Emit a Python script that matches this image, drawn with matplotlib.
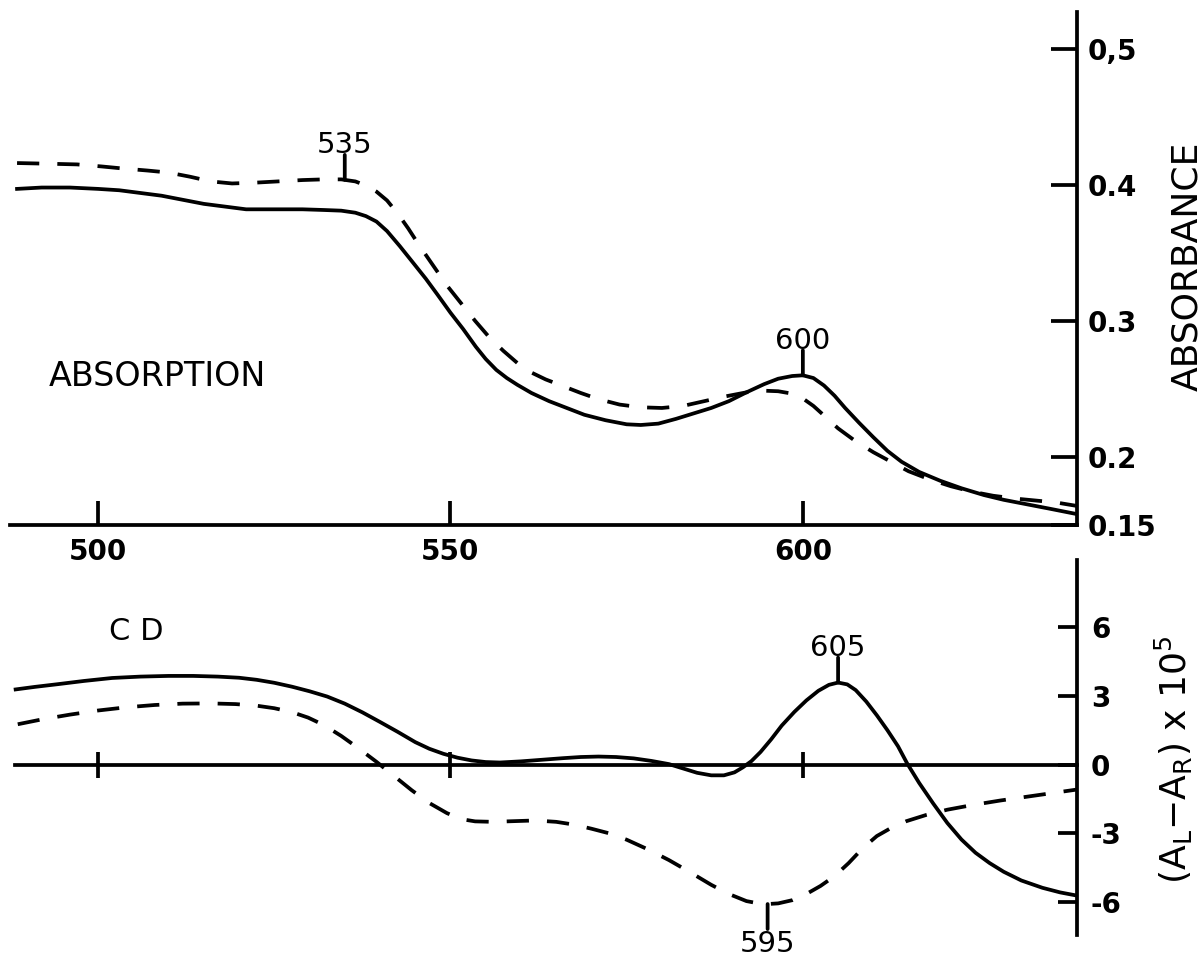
import numpy as np
import matplotlib
matplotlib.use("Agg")
import matplotlib.pyplot as plt

# absorption spectra (wavelength nm, absorbance)
wl_abs_solid = [488.5, 492, 496, 500, 503, 506, 509, 512, 515, 518, 521, 525, 529, 532, 534.5,
                536.5, 538, 539.5, 541, 542.8, 544.5, 546.5, 548.2, 550, 551.8, 553.6, 555,
                556.5, 558, 559.5, 561.5, 564, 566.5, 569, 572, 575, 577, 579.5, 582, 584.5,
                587, 589.5, 592, 594.5, 596.5, 598.5, 600, 601.5, 603, 604.5, 606, 608, 610,
                612, 614, 616.5, 619.5, 622.5, 625.7, 628.5, 631.5, 635, 638.9]
abs_solid = [0.397, 0.398, 0.398, 0.397, 0.396, 0.394, 0.392, 0.389, 0.386, 0.384, 0.382, 0.382,
             0.382, 0.3815, 0.381, 0.3795, 0.377, 0.373, 0.366, 0.355, 0.344, 0.331, 0.319,
             0.306, 0.294, 0.281, 0.272, 0.264, 0.258, 0.253, 0.247, 0.241, 0.236, 0.231,
             0.227, 0.224, 0.2235, 0.2245, 0.228, 0.232, 0.236, 0.241, 0.2475, 0.2535, 0.2575,
             0.2595, 0.260, 0.258, 0.2525, 0.245, 0.236, 0.225, 0.2145, 0.2045, 0.1965, 0.189,
             0.1825, 0.177, 0.172, 0.1685, 0.1655, 0.162, 0.158]

wl_abs_dash = [488.5, 493, 497, 500.5, 503.5, 507, 510, 513, 516, 519, 522, 525.5, 529, 532,
               534.5, 536.5, 538, 539.5, 541, 542.5, 544, 545.5, 547.5, 549.5, 551.5, 553.5,
               555.5, 557.5, 559.5, 561.5, 563.5, 566, 568.5, 571, 574, 577, 580, 583, 586,
               589, 592, 594.5, 596.5, 598.5, 600, 601.5, 603, 605, 607.5, 610, 612.5, 615,
               618, 621, 624, 627, 630, 633, 636, 638.9]
abs_dash = [0.416, 0.4155, 0.415, 0.4135, 0.412, 0.4105, 0.409, 0.406, 0.4025, 0.401, 0.4015,
            0.4025, 0.4035, 0.404, 0.404, 0.4025, 0.3995, 0.395, 0.3885, 0.379, 0.368, 0.356,
            0.341, 0.326, 0.313, 0.300, 0.288, 0.278, 0.269, 0.262, 0.257, 0.252, 0.247,
            0.2425, 0.2385, 0.2365, 0.236, 0.2375, 0.241, 0.2445, 0.2475, 0.2487, 0.2483,
            0.2465, 0.243, 0.2375, 0.2305, 0.221, 0.2115, 0.2035, 0.1965, 0.1895, 0.1835,
            0.1785, 0.1745, 0.1715, 0.1695, 0.168, 0.1665, 0.164]

# CD spectra (wavelength nm, (AL-AR) x 10^5)
wl_cd_solid = [488.3, 491, 494.3, 498, 502, 506, 510, 513.5, 517, 520, 522.5, 525, 527.5, 530,
               532.5, 535, 537.5, 540, 542.5, 545, 547, 549, 551, 553, 555, 557, 560, 563, 566,
               568.5, 571, 573.5, 576, 578.5, 581, 583, 585, 587, 588.8, 590.3, 591.5, 592.7,
               594, 595.5, 597, 598.8, 600.5, 602.2, 603.7, 605, 606.3, 607.5, 609, 610.5, 612,
               613.5, 614.8, 616.5, 618.5, 620.5, 622.5, 624.5, 626.5, 628.5, 631, 634, 636.5,
               638.9]
cd_solid = [3.28, 3.39, 3.51, 3.65, 3.78, 3.84, 3.87, 3.87, 3.84, 3.79, 3.70, 3.57, 3.40, 3.20,
            2.97, 2.66, 2.28, 1.86, 1.43, 0.98, 0.69, 0.47, 0.30, 0.18, 0.11, 0.09, 0.14, 0.21,
            0.28, 0.33, 0.35, 0.33, 0.27, 0.16, 0.02, -0.17, -0.36, -0.47, -0.47, -0.34, -0.12,
            0.15, 0.55, 1.10, 1.70, 2.30, 2.80, 3.22, 3.48, 3.58, 3.50, 3.25, 2.75, 2.15, 1.50,
            0.80, 0.05, -0.80, -1.70, -2.55, -3.27, -3.85, -4.30, -4.68, -5.06, -5.38, -5.58,
            -5.72]

wl_cd_dash = [488.6, 492, 496, 500, 504, 508, 512, 516, 519.5, 522.5, 525, 527.5, 529.8, 532,
              534.5, 537, 539.5, 542, 544.5, 547, 549.5, 551.5, 553.5, 556, 559, 562, 565,
              567.5, 570, 572.5, 575, 578, 581, 584, 587, 589.5, 592, 594.4, 596.5, 598.5,
              600.5, 602.5, 604.5, 606.5, 608.5, 610.5, 612.5, 614.7, 617.5, 620.5, 624, 628,
              633, 638.9]
cd_dash = [1.76, 1.97, 2.18, 2.36, 2.50, 2.60, 2.66, 2.67, 2.64, 2.57, 2.46, 2.29, 2.05, 1.73,
           1.25, 0.70, 0.12, -0.50, -1.12, -1.68, -2.12, -2.38, -2.48, -2.50, -2.47, -2.44,
           -2.50, -2.62, -2.80, -3.00, -3.28, -3.70, -4.17, -4.70, -5.25, -5.65, -5.96, -6.10,
           -6.06, -5.92, -5.65, -5.30, -4.87, -4.30, -3.65, -3.12, -2.77, -2.47, -2.20, -1.97,
           -1.77, -1.57, -1.35, -1.09]

x_ticks = [500, 550, 600]
abs_ticks = [0.5, 0.4, 0.3, 0.2, 0.15]
abs_tick_labels = ["0,5", "0.4", "0.3", "0.2", "0.15"]
cd_ticks = [6, 3, 0, -3, -6]
cd_tick_labels = ["6", "3", "0", "-3", "-6"]

W, H = 1204, 964
plt.rcParams["font.family"] = ["DejaVu Sans"]
plt.rcParams["lines.scale_dashes"] = False
LW = 2.7
DASH = (0, (16, 13))

fig = plt.figure(figsize=(W / 100, H / 100), dpi=100)


def px_box(x0, y0, x1, y1):
    return [x0 / W, 1 - y1 / H, (x1 - x0) / W, (y1 - y0) / H]


xlim = (487.5, 638.9)

# ---- absorption panel
ax1 = fig.add_axes(px_box(10, 12, 1077, 525))
ax1.plot(wl_abs_solid, abs_solid, color="black", lw=LW)
ax1.plot(wl_abs_dash, abs_dash, color="black", lw=LW, linestyle=DASH)
ax1.set_xlim(*xlim)
ax1.set_ylim(0.15, 0.527)
for s in ["top", "left"]:
    ax1.spines[s].set_visible(False)
for s in ["bottom", "right"]:
    ax1.spines[s].set_linewidth(LW)
ax1.set_xticks(x_ticks)
ax1.set_xticklabels([str(t) for t in x_ticks], fontweight="bold")
ax1.set_yticks(abs_ticks)
ax1.set_yticklabels(abs_tick_labels, fontweight="bold")
ax1.tick_params(axis="x", direction="in", length=17, width=LW, pad=9, labelsize=20)
ax1.tick_params(axis="y", direction="in", length=19, width=LW, pad=8, labelsize=20,
                left=False, right=True, labelleft=False, labelright=True)

# ---- CD panel
ax2 = fig.add_axes(px_box(10, 560, 1077, 935))
ax2.plot(wl_cd_solid, cd_solid, color="black", lw=LW)
ax2.plot(wl_cd_dash, cd_dash, color="black", lw=LW, linestyle=DASH)
ax2.set_xlim(*xlim)
ax2.set_ylim(-7.44, 8.93)
for s in ["top", "left"]:
    ax2.spines[s].set_visible(False)
ax2.spines["bottom"].set_position(("data", 0))
ax2.spines["bottom"].set_bounds(488.2, xlim[1])
for s in ["bottom", "right"]:
    ax2.spines[s].set_linewidth(LW)
ax2.set_xticks(x_ticks)
ax2.tick_params(axis="x", direction="inout", length=19, width=LW, labelbottom=False)
ax2.set_yticks(cd_ticks)
ax2.set_yticklabels(cd_tick_labels, fontweight="bold")
ax2.tick_params(axis="y", direction="in", length=14, width=LW, pad=10, labelsize=20,
                left=False, right=True, labelleft=False, labelright=True)


def peak_mark(ax, wl, xs, ys, label, up=True):
    y = np.interp(wl, xs, ys)
    sign = 1 if up else -1
    ax.annotate("", xy=(wl, y), xytext=(0, sign * 18), textcoords="offset points",
                arrowprops=dict(arrowstyle="-", lw=LW, shrinkA=0, shrinkB=0))
    ax.annotate(label, xy=(wl, y), xytext=(0, sign * 19), textcoords="offset points",
                ha="center", va="baseline" if up else "top", fontsize=21)


peak_mark(ax1, 535, wl_abs_dash, abs_dash, "535")
peak_mark(ax1, 600, wl_abs_solid, abs_solid, "600")
peak_mark(ax2, 605, wl_cd_solid, cd_solid, "605")
peak_mark(ax2, 595, wl_cd_dash, cd_dash, "595", up=False)

fig.text(49 / W, 1 - 377 / H, "ABSORPTION", ha="left", va="center", fontsize=24)
fig.text(109 / W, 1 - 632 / H, "C D", ha="left", va="center", fontsize=22)
fig.text(1187 / W, 1 - 266 / H, "ABSORBANCE", ha="center", va="center",
         rotation=90, fontsize=26)
fig.text(1174 / W, 1 - 760 / H,
         "(A$_\\mathregular{L}$$-$A$_\\mathregular{R}$) x 10$^\\mathregular{5}$",
         ha="center", va="center", rotation=90, fontsize=26)

fig.savefig("out.png", dpi=100, facecolor="white")
